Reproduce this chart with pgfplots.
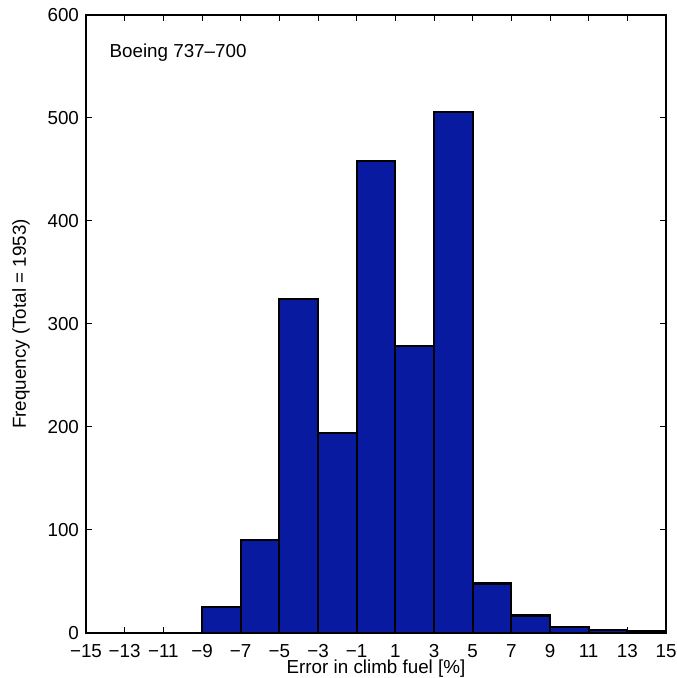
\documentclass[border=0pt]{standalone}
\usepackage{fontspec}
\setmainfont{Liberation Sans}
\usepackage{pgfplots}
\pgfplotsset{compat=1.18}
\definecolor{barblue}{RGB}{8,26,160}

\begin{document}
\begin{tikzpicture}
\begin{axis}[
  scale only axis,
  width=290pt,
  height=309pt,
  xmin=-15, xmax=15,
  ymin=0, ymax=600,
  xtick={-15,-13,...,15},
  xticklabels={−15,−13,−11,−9,−7,−5,−3,−1,1,3,5,7,9,11,13,15},
  ytick={0,100,...,600},
  yticklabels={0,100,200,300,400,500,600},
  tick align=inside,
  major tick length=3pt,
  tick style={black, line width=0.5pt},
  axis line style={line width=0.6pt},
  axis on top,
  font=\fontsize{9.4}{11}\selectfont,
  xlabel={Error in climb fuel [\%]},
  ylabel={Frequency (Total = 1953)},
  xlabel style={yshift=5.5pt},
  ylabel style={yshift=2pt},
  xticklabel style={yshift=-2pt},
]
\addplot[ybar interval, fill=barblue, draw=black, line width=1.1pt] coordinates {
  (-9,25) (-7,90) (-5,324) (-3,194) (-1,458) (1,279) (3,506)
  (5,48) (7,17) (9,6) (11,3) (13,2) (15,2)
};
\node[anchor=west, inner sep=0pt] at (axis cs:-13.8,563) {Boeing 737–700};
\end{axis}
\pgfresetboundingbox
\path[use as bounding box] (-43pt,-22.5pt) rectangle (295pt,316.5pt);
\end{tikzpicture}
\end{document}
